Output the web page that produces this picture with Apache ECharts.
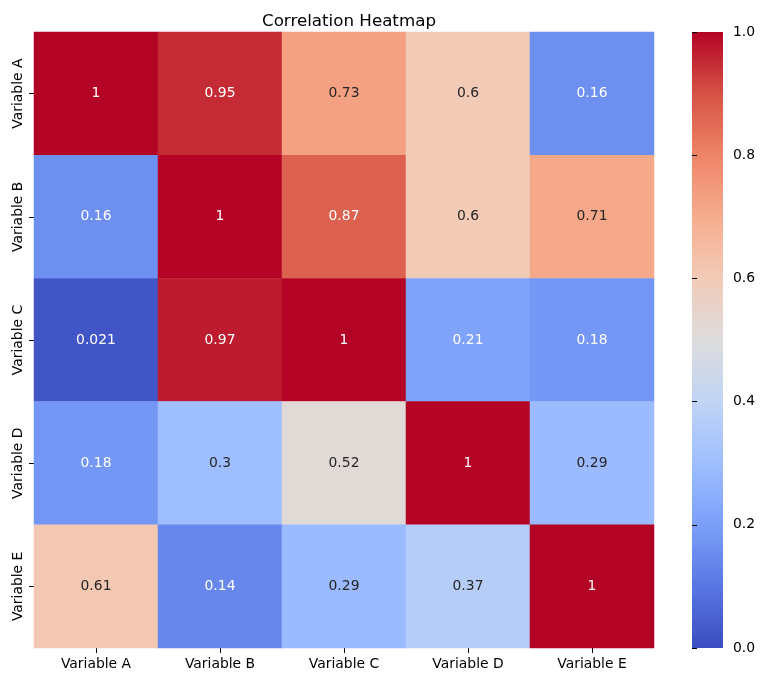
<!DOCTYPE html>
<html>
<head>
<meta charset="utf-8">
<script src="https://cdn.jsdelivr.net/npm/echarts@6/dist/echarts.min.js"></script>
<style>html,body{margin:0;padding:0;background:#fff;}#c{width:764px;height:682px;}</style>
</head>
<body>
<div id="c"></div>
<script>
const categories = ['Variable A', 'Variable B', 'Variable C', 'Variable D', 'Variable E'];
const rowA = [1, 0.95, 0.73, 0.6, 0.16];
const rowB = [0.16, 1, 0.87, 0.6, 0.71];
const rowC = [0.021, 0.97, 1, 0.21, 0.18];
const rowD = [0.18, 0.3, 0.52, 1, 0.29];
const rowE = [0.61, 0.14, 0.29, 0.37, 1];
const rows = [rowA, rowB, rowC, rowD, rowE];
const colorbarTicks = [0, 0.2, 0.4, 0.6, 0.8, 1.0];

const coolwarm = ['#3b4cc0','#5977e3','#7b9ff9','#9ebeff','#c0d4f5','#dddcdc','#f2cbb7','#f7ac8e','#ee8468','#d65244','#b40426'];

function hex2rgb(h){return [parseInt(h.slice(1,3),16),parseInt(h.slice(3,5),16),parseInt(h.slice(5,7),16)];}
function cmap(v){
  v = Math.max(0, Math.min(1, v));
  const n = coolwarm.length - 1;
  const p = v * n; let i = Math.floor(p); if (i >= n) i = n - 1;
  const t = p - i;
  const a = hex2rgb(coolwarm[i]), b = hex2rgb(coolwarm[i+1]);
  return a.map((x, k) => x + (b[k] - x) * t);
}
function lum(rgb){
  const l = rgb.map(c => { c = c / 255; return c <= 0.03928 ? c / 12.92 : Math.pow((c + 0.055) / 1.055, 2.4); });
  return 0.2126 * l[0] + 0.7152 * l[1] + 0.0722 * l[2];
}

const data = [];
rows.forEach((row, yi) => {
  row.forEach((v, xi) => {
    const dark = lum(cmap(v)) > 0.408;
    data.push({ value: [xi, yi, v], label: { color: dark ? '#262626' : '#ffffff' } });
  });
});

// colorbar gradient (top = 1, bottom = 0)
const gradStops = coolwarm.map((c, i) => ({ offset: 1 - i / (coolwarm.length - 1), color: c })).reverse();

const chart = echarts.init(document.getElementById('c'), null, { renderer: 'canvas' });
const font = 'DejaVu Sans';
chart.setOption({
  animation: false,
  backgroundColor: '#ffffff',
  title: {
    text: 'Correlation Heatmap',
    left: 344, top: 8, textAlign: 'center',
    textStyle: { fontFamily: font, fontSize: 16.7, fontWeight: 'normal', color: '#000' }
  },
  grid: [
    { left: 34, top: 32, width: 620, height: 616 },
    { left: 692, top: 32, width: 31, height: 616 }
  ],
  xAxis: [
    {
      type: 'category', data: categories, gridIndex: 0,
      axisLine: { show: false },
      axisTick: { show: true, alignWithLabel: true, length: 5, lineStyle: { color: '#000' } },
      axisLabel: { margin: 9, fontFamily: font, fontSize: 13.9, color: '#000' },
      splitLine: { show: false }
    },
    { type: 'value', gridIndex: 1, show: false, min: 0, max: 1 }
  ],
  yAxis: [
    {
      type: 'category', data: categories, gridIndex: 0, inverse: true,
      axisLine: { show: false },
      axisTick: { show: true, alignWithLabel: true, length: 5, lineStyle: { color: '#000' } },
      axisLabel: { margin: 9, rotate: 90, fontFamily: font, fontSize: 13.9, color: '#000' },
      splitLine: { show: false }
    },
    {
      type: 'value', gridIndex: 1, position: 'right', min: 0, max: 1, interval: 0.2,
      axisLine: { show: false },
      axisTick: { show: true, length: 5, lineStyle: { color: '#000' } },
      axisLabel: { margin: 10, fontFamily: font, fontSize: 13.9, color: '#000', formatter: v => v.toFixed(1) },
      splitLine: { show: false }
    }
  ],
  visualMap: {
    type: 'continuous', min: 0, max: 1, seriesIndex: 0, show: false,
    inRange: { color: coolwarm }
  },
  graphic: [{
    type: 'rect', left: 692, top: 32, z: 0,
    shape: { width: 31, height: 616 },
    style: { fill: new echarts.graphic.LinearGradient(0, 0, 0, 1, gradStops) }
  }],
  series: [{
    type: 'heatmap', xAxisIndex: 0, yAxisIndex: 0,
    data: data,
    label: { show: true, fontFamily: font, fontSize: 13.9, formatter: p => String(p.value[2]) },
    itemStyle: { borderWidth: 0 },
    emphasis: { disabled: true }
  }]
});
</script>
</body>
</html>
